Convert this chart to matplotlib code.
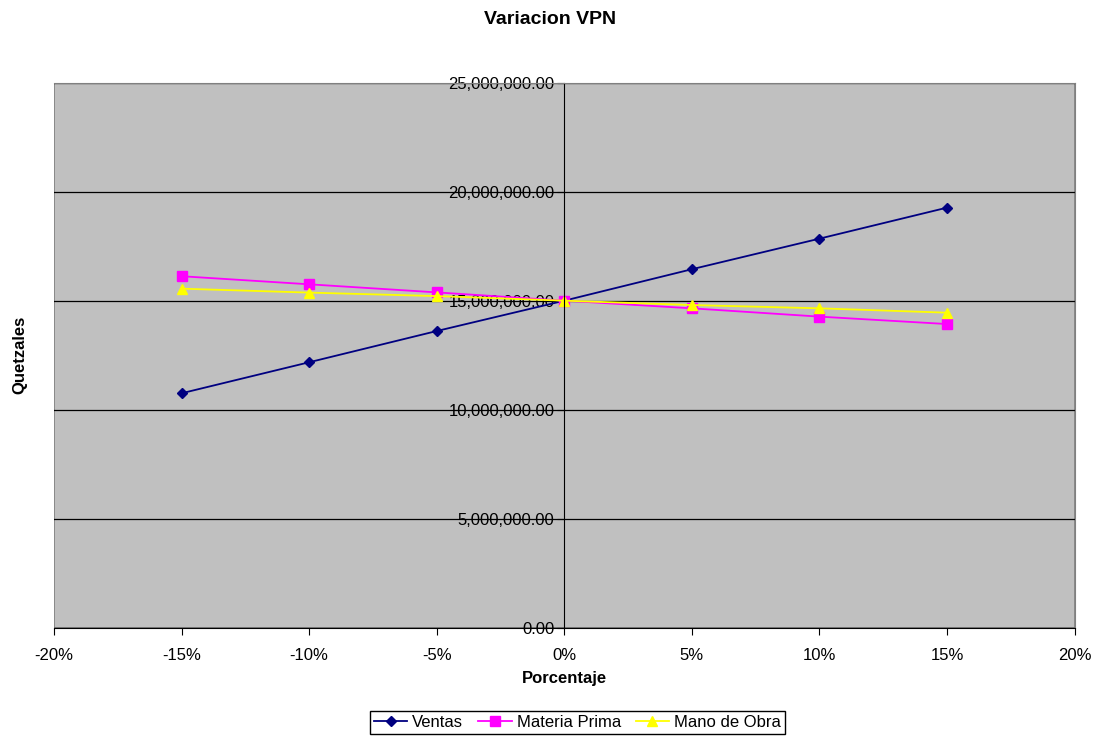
import numpy as np
import matplotlib.pyplot as plt
from matplotlib.patches import Rectangle
from matplotlib.ticker import FuncFormatter

plt.rcParams['font.family'] = ['Liberation Sans', 'DejaVu Sans']

# datos
porcentaje = [-0.15, -0.10, -0.05, 0.0, 0.05, 0.10, 0.15]
ventas = [10.77e6, 12.19e6, 13.62e6, 15.01e6, 16.45e6, 17.85e6, 19.27e6]
materia_prima = [16.13e6, 15.76e6, 15.39e6, 15.01e6, 14.66e6, 14.28e6, 13.94e6]
mano_obra = [15.56e6, 15.38e6, 15.22e6, 15.01e6, 14.81e6, 14.66e6, 14.46e6]

fig = plt.figure(figsize=(11.01, 7.40), dpi=100)
ax = fig.add_axes([0.049, 0.1507, 0.927, 0.7378])
ax.set_facecolor('#c0c0c0')

ax.plot(porcentaje, ventas, color='#000080', marker='D', markersize=5.5, lw=1.3, label='Ventas')
ax.plot(porcentaje, materia_prima, color='#ff00ff', marker='s', markersize=6.5, lw=1.3, label='Materia Prima')
ax.plot(porcentaje, mano_obra, color='#ffff00', marker='^', markersize=7.5, lw=1.3, label='Mano de Obra')

ax.set_xlim(-0.20, 0.20)
ax.set_ylim(0, 25e6)
ax.set_xticks(np.arange(-0.20, 0.201, 0.05))
ax.set_yticks(np.arange(0, 25e6 + 1, 5e6))
ax.xaxis.set_major_formatter(FuncFormatter(lambda v, p: f'{round(v * 100):d}%'))
ax.yaxis.set_major_formatter(FuncFormatter(lambda v, p: f'{v:,.2f}'))

ax.grid(axis='y', color='black', lw=0.9)
ax.set_axisbelow(True)

# eje vertical en el 0%
ax.spines['left'].set_position(('data', 0))
ax.spines['left'].set_color('black')
ax.spines['bottom'].set_color('black')
for s in ['top', 'right']:
    ax.spines[s].set_color('#808080')
ax.add_patch(Rectangle((0, 0), 1, 1, transform=ax.transAxes, fill=False,
                       edgecolor='#808080', lw=1.2, zorder=0.5))

ax.tick_params(axis='both', labelsize=12, direction='out', length=5, color='black')
ax.tick_params(axis='y', pad=2)
ax.tick_params(axis='x', pad=9)

ax.set_xlabel('Porcentaje', fontsize=12, fontweight='bold', labelpad=6)
fig.text(0.018, 0.52, 'Quetzales', rotation=90, fontsize=12, fontweight='bold',
         ha='center', va='center')
fig.text(0.5, 0.974, 'Variacion VPN', fontsize=14, fontweight='bold', ha='center', va='center')

fig.legend(loc='center', bbox_to_anchor=(0.5245, 0.024), ncol=3, fontsize=12,
           frameon=True, fancybox=False, edgecolor='black', framealpha=1,
           handlelength=2.0, columnspacing=0.9, borderpad=0.25, handletextpad=0.3)

plt.savefig('out.png', dpi=100)
plt.close()
